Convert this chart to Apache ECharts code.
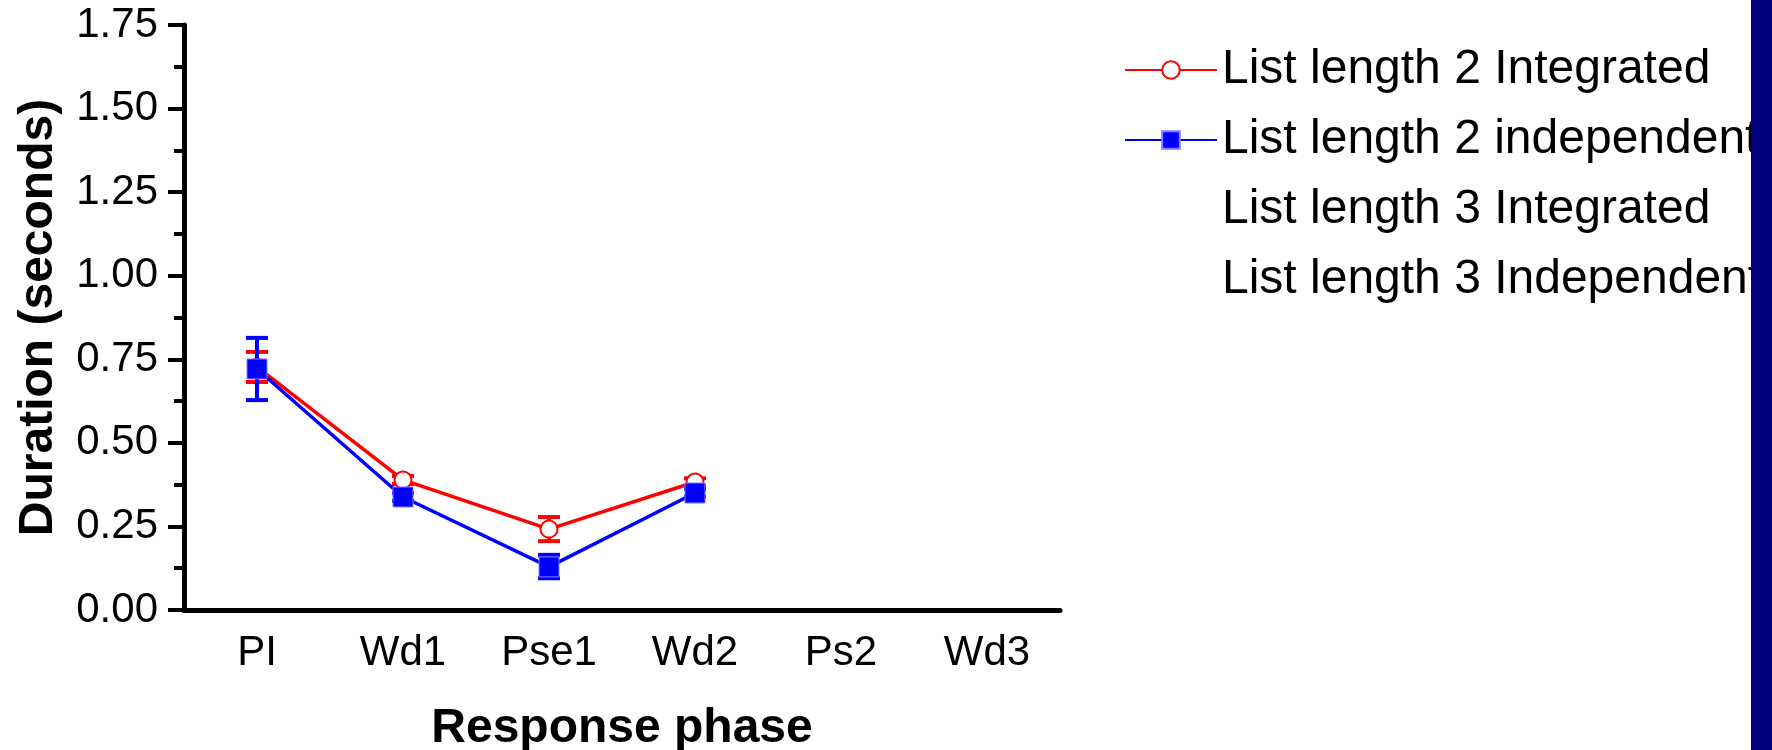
<!DOCTYPE html>
<html>
<head>
<meta charset="utf-8">
<title>Duration by response phase</title>
<script src="https://cdn.jsdelivr.net/npm/echarts@6/dist/echarts.min.js"></script>
<style>
  html, body { margin: 0; padding: 0; background: #fff; }
  #chart { width: 1772px; height: 750px; }
</style>
</head>
<body>
<div id="chart"></div>
<script>
// response phases on the x axis
const phases = ['PI', 'Wd1', 'Pse1', 'Wd2', 'Ps2', 'Wd3'];
const seriesNames = [
  'List length 2 Integrated',
  'List length 2 independent',
  'List length 3 Integrated',
  'List length 3 Independent'
];

// list length 2, integrated (red)
const intMean = [0.727, 0.389, 0.242, 0.383];
const intLow = [0.682, 0.377, 0.206, 0.372];
const intHigh = [0.772, 0.401, 0.278, 0.394];

// list length 2, independent (blue)
const indMean = [0.721, 0.338, 0.129, 0.350];
const indLow = [0.628, 0.326, 0.095, 0.339];
const indHigh = [0.814, 0.350, 0.165, 0.361];

const font = 'Liberation Sans, Arial, sans-serif';

const errRows = (lo, hi) => lo.map((v, i) => [i, v, hi[i]]);

// vertical error bar with caps
function errorBar(color) {
  return function (params, api) {
    const x = api.value(0);
    const lo = api.coord([x, api.value(1)]);
    const hi = api.coord([x, api.value(2)]);
    const half = 11;
    const style = { stroke: color, lineWidth: 4 };
    return {
      type: 'group',
      children: [
        { type: 'line', shape: { x1: lo[0], y1: lo[1], x2: hi[0], y2: hi[1] }, style: style },
        { type: 'line', shape: { x1: lo[0] - half, y1: lo[1], x2: lo[0] + half, y2: lo[1] }, style: style },
        { type: 'line', shape: { x1: hi[0] - half, y1: hi[1], x2: hi[0] + half, y2: hi[1] }, style: style }
      ]
    };
  };
}

const chart = echarts.init(document.getElementById('chart'));

const option = {
  backgroundColor: '#fff',
  animation: false,
  grid: { left: 184, right: 712, top: 25, bottom: 140, containLabel: false, outerBoundsMode: 'none' },
  legend: {
    orient: 'vertical',
    left: 1119,
    top: 40,
    itemWidth: 92,
    itemHeight: 22,
    itemGap: 20,
    selectedMode: false,
    textStyle: { fontSize: 48, color: '#000', fontFamily: font, lineHeight: 50 },
    data: seriesNames
  },
  xAxis: {
    type: 'category',
    data: phases,
    boundaryGap: true,
    name: 'Response phase',
    nameLocation: 'middle',
    nameGap: 95,
    nameTextStyle: { fontSize: 48, fontWeight: 'bold', color: '#000', fontFamily: font },
    axisLine: { lineStyle: { color: '#000', width: 5 } },
    axisTick: { alignWithLabel: true, length: 16, lineStyle: { color: '#000', width: 4 } },
    axisLabel: { fontSize: 42, color: '#000', fontFamily: font, margin: 22 },
    splitLine: { show: false }
  },
  yAxis: {
    type: 'value',
    min: 0,
    max: 1.75,
    interval: 0.25,
    name: 'Duration (seconds)',
    nameLocation: 'middle',
    nameGap: 121,
    nameTextStyle: { fontSize: 48, fontWeight: 'bold', color: '#000', fontFamily: font },
    axisLine: { show: true, lineStyle: { color: '#000', width: 5 } },
    axisTick: { show: true, length: 16, lineStyle: { color: '#000', width: 4 } },
    minorTick: { show: true, splitNumber: 2, length: 10, lineStyle: { color: '#000', width: 4 } },
    axisLabel: {
      fontSize: 42, color: '#000', fontFamily: font, margin: 26,
      formatter: v => v.toFixed(2)
    },
    splitLine: { show: false },
    minorSplitLine: { show: false }
  },
  series: [
    {
      name: 'intErr',
      type: 'custom',
      renderItem: errorBar('#ff0000'),
      data: errRows(intLow, intHigh),
      z: 2
    },
    {
      name: seriesNames[0],
      type: 'line',
      data: intMean,
      symbol: 'emptyCircle',
      symbolSize: 17,
      lineStyle: { color: '#ff0000', width: 3.5 },
      itemStyle: { color: '#ff0000', borderColor: '#ff0000', borderWidth: 3 },
      z: 3
    },
    {
      name: 'indErr',
      type: 'custom',
      renderItem: errorBar('#0000ff'),
      data: errRows(indLow, indHigh),
      z: 4
    },
    {
      name: seriesNames[1],
      type: 'line',
      data: indMean,
      symbol: 'rect',
      symbolSize: 20,
      lineStyle: { color: '#0000ff', width: 3.5 },
      itemStyle: { color: '#0000ff', borderColor: '#7f7fff', borderWidth: 1 },
      z: 5
    },
    {
      name: seriesNames[2],
      type: 'line',
      data: [],
      lineStyle: { color: 'rgba(0,0,0,0)' },
      itemStyle: { color: 'rgba(0,0,0,0)', borderColor: 'rgba(0,0,0,0)' }
    },
    {
      name: seriesNames[3],
      type: 'line',
      data: [],
      lineStyle: { color: 'rgba(0,0,0,0)' },
      itemStyle: { color: 'rgba(0,0,0,0)', borderColor: 'rgba(0,0,0,0)' }
    }
  ],
  graphic: [
    {
      type: 'rect',
      right: 0,
      top: 0,
      z: 100,
      shape: { width: 21, height: 750 },
      style: { fill: '#000080' }
    }
  ]
};

chart.setOption(option);
</script>
</body>
</html>
